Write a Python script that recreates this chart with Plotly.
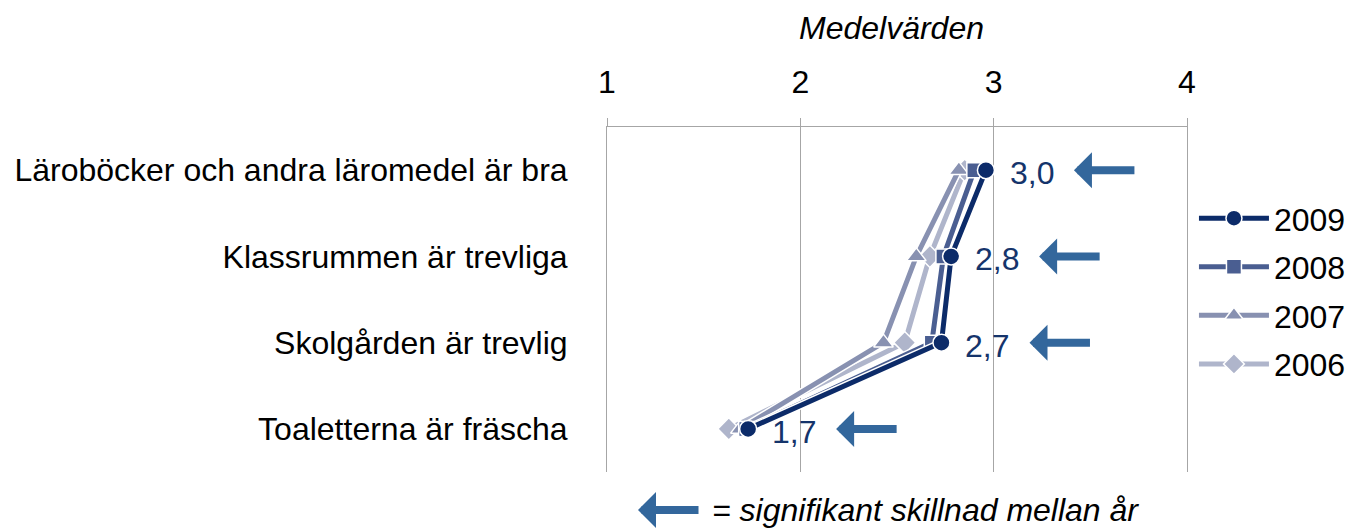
import plotly.graph_objects as go

# Survey statements (top to bottom) and mean values per year
categories = [
    "Läroböcker och andra läromedel är bra",
    "Klassrummen är trevliga",
    "Skolgården är trevlig",
    "Toaletterna är fräscha",
]
years = ["2009", "2008", "2007", "2006"]
values_2009 = [2.96, 2.78, 2.73, 1.73]
values_2008 = [2.90, 2.74, 2.68, 1.72]
values_2007 = [2.82, 2.60, 2.43, 1.69]
values_2006 = [2.85, 2.67, 2.54, 1.63]
# Statements with a significant change between years
significant = [True, True, True, True]

series = {
    "2009": values_2009,
    "2008": values_2008,
    "2007": values_2007,
    "2006": values_2006,
}
colors = {"2009": "#0c2b69", "2008": "#4a5e91", "2007": "#8891b1", "2006": "#afb5cb"}
symbols = {"2009": "circle", "2008": "square", "2007": "triangle-up", "2006": "diamond"}
msize = {"2009": 17, "2008": 15, "2007": 17, "2006": 17}

FONT = "Liberation Sans, Arial, sans-serif"
FS = 32
ARROW = "#33679c"
LABEL = "#15346b"

fig = go.Figure()

# draw oldest first so 2009 ends up on top
for yr in ["2006", "2007", "2008", "2009"]:
    # thin white halo under each line
    fig.add_trace(go.Scatter(
        x=series[yr], y=categories, mode="lines",
        line=dict(color="white", width=8),
        showlegend=False, hoverinfo="skip",
    ))
    fig.add_trace(go.Scatter(
        x=series[yr], y=categories, mode="lines+markers", name=yr,
        legendgroup=yr, legendrank=years.index(yr) + 1,
        line=dict(color=colors[yr], width=5),
        marker=dict(symbol=symbols[yr], size=msize[yr], color=colors[yr],
                    line=dict(color="white", width=1.5)),
    ))

# value labels and significance arrows next to the 2009 points
px_per_unit = 580 / 3.0
for cat, v, sig in zip(categories, values_2009, significant):
    fig.add_annotation(
        x=v, y=cat, xref="x", yref="y", showarrow=False,
        text=f"{v:.1f}".replace(".", ","), xanchor="left", yanchor="middle",
        xshift=22, yshift=-3,
        font=dict(family=FONT, size=FS, color=LABEL),
    )
    if sig:
        fig.add_annotation(
            x=v + 88 / px_per_unit, y=cat, xref="x", yref="y",
            ax=62, ay=0, axref="pixel", ayref="pixel",
            showarrow=True, arrowhead=1, arrowsize=0.75, arrowwidth=8,
            arrowcolor=ARROW, text="",
        )

# axis title above the top ticks
fig.add_annotation(
    x=0.49, y=1.287, xref="paper", yref="paper", showarrow=False,
    text="<i>Medelvärden</i>", xanchor="center", yanchor="middle",
    font=dict(family=FONT, size=FS, color="black"),
)

# key for the arrows below the plot
fig.add_annotation(
    x=(638 - 607) / 580, y=-0.11, xref="paper", yref="paper",
    ax=62, ay=0, axref="pixel", ayref="pixel",
    showarrow=True, arrowhead=1, arrowsize=0.75, arrowwidth=8,
    arrowcolor=ARROW, text="",
)
fig.add_annotation(
    x=(710 - 607) / 580, y=-0.11, xref="paper", yref="paper", showarrow=False,
    text="<i>= signifikant skillnad mellan år</i>", xanchor="left", yanchor="middle",
    font=dict(family=FONT, size=FS, color="black"),
)

fig.update_layout(
    width=1349, height=529,
    margin=dict(l=607, r=162, t=127, b=57, autoexpand=False),
    paper_bgcolor="white", plot_bgcolor="white",
    font=dict(family=FONT, size=FS, color="black"),
    legend=dict(
        x=1.012, y=0.815, xanchor="left", yanchor="top",
        traceorder="grouped", tracegroupgap=4,
        font=dict(family=FONT, size=FS, color="black"),
        bgcolor="rgba(0,0,0,0)", itemwidth=70,
    ),
    showlegend=True,
)

fig.update_xaxes(
    side="top", range=[1, 4], tickvals=[1, 2, 3, 4], ticktext=["1", "2", "3", "4"],
    ticks="outside", ticklen=8, tickcolor="#a6a6a6",
    showline=True, linecolor="#a6a6a6", linewidth=1,
    showgrid=True, gridcolor="#a6a6a6", gridwidth=1,
    zeroline=False, ticklabelstandoff=12,
    tickfont=dict(family=FONT, size=FS, color="black"),
)
fig.update_yaxes(
    type="category", categoryorder="array", categoryarray=categories,
    range=[3.5, -0.5], showgrid=False, zeroline=False,
    showline=True, mirror=True, linecolor="#a6a6a6", linewidth=1,
    ticks="", ticklabelstandoff=32,
    tickfont=dict(family=FONT, size=FS, color="black"),
)

fig.write_html("out.html")
